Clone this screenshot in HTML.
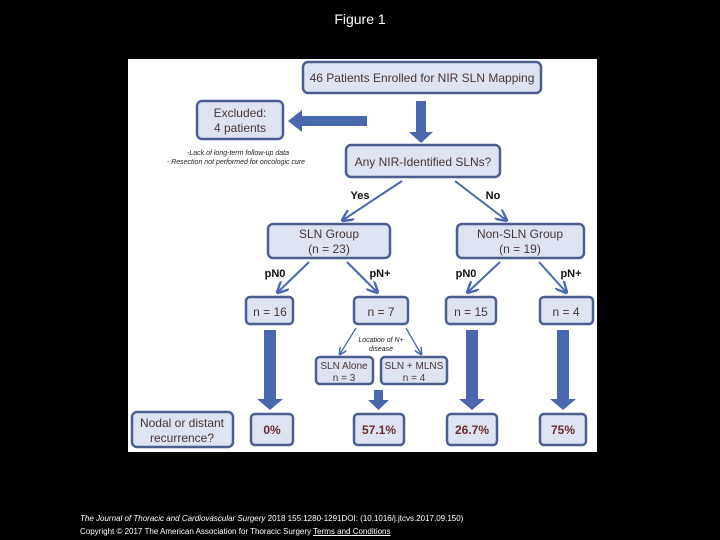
<!DOCTYPE html>
<html><head><style>
body{margin:0;background:#000;width:720px;height:540px;overflow:hidden;position:relative;font-family:"Liberation Sans",sans-serif}
.t{position:absolute;color:#fff}
</style></head><body>
<div class="t" style="left:0;width:720px;top:11px;text-align:center;font-size:14px">Figure 1</div>
<svg style="position:absolute;left:0;top:0" width="720" height="540">
<rect x="128" y="59" width="469" height="393" fill="#fff"/>
<defs><marker id="a" markerWidth="6" markerHeight="6" refX="5" refY="3" orient="auto"><path d="M0,0 L6,3 L0,6" fill="none" stroke="#4a68ad" stroke-width="1.2"/></marker></defs>
<g fill="#dde3f1" stroke="#4b5f8e" stroke-width="2.5">
<rect x="303" y="62" width="238" height="31" rx="5"/>
<rect x="197" y="101" width="86" height="38" rx="5"/>
<rect x="346" y="145" width="154" height="32" rx="5"/>
<rect x="268" y="224" width="122" height="34" rx="5"/>
<rect x="457" y="224" width="127" height="34" rx="5"/>
<rect x="246" y="297" width="47" height="27" rx="4"/>
<rect x="354" y="297" width="54" height="27" rx="4"/>
<rect x="446" y="297" width="50" height="27" rx="4"/>
<rect x="540" y="297" width="53" height="27" rx="4"/>
<rect x="316" y="357" width="57" height="27" rx="4"/>
<rect x="381" y="357" width="66" height="27" rx="4"/>
<rect x="132" y="412" width="101" height="35" rx="5"/>
<rect x="251" y="414" width="42" height="31" rx="4"/>
<rect x="354" y="414" width="50" height="31" rx="4"/>
<rect x="447" y="414" width="50" height="31" rx="4"/>
<rect x="540" y="414" width="46" height="31" rx="4"/>
</g>
<g fill="#4a68ad">
<path d="M367,116 L302,116 L302,110 L288,121 L302,132 L302,126 L367,126Z"/>
<path d="M416,101 L426,101 L426,132 L433,132 L421,143 L409,132 L416,132Z"/>
<path d="M264,330 L276,330 L276,399 L283,399 L270,410 L257,399 L264,399Z"/>
<path d="M466,330 L478,330 L478,399 L485,399 L472,410 L459,399 L466,399Z"/>
<path d="M557,330 L569,330 L569,399 L576,399 L563,410 L550,399 L557,399Z"/>
<path d="M374,390 L383,390 L383,400 L389,400 L378.5,410 L368,400 L374,400Z"/>
</g>
<g stroke="#4a68ad" stroke-width="2" marker-end="url(#a)">
<line x1="402" y1="181" x2="343" y2="220"/>
<line x1="455" y1="181" x2="506" y2="220"/>
<line x1="309" y1="262" x2="278" y2="292"/>
<line x1="347" y1="262" x2="377" y2="292"/>
<line x1="500" y1="262" x2="468" y2="292"/>
<line x1="539" y1="262" x2="566" y2="292"/>
<line stroke-width="1.3" x1="356" y1="328" x2="340" y2="354"/>
<line stroke-width="1.3" x1="406" y1="328" x2="421" y2="354"/>
</g>
<g font-family="Liberation Sans,sans-serif" fill="#4a3535" text-anchor="middle" font-size="12">
<text x="422" y="82">46 Patients Enrolled for NIR SLN Mapping</text>
<text x="240" y="117">Excluded:</text>
<text x="240" y="132">4 patients</text>
<text x="423" y="166">Any NIR-Identified SLNs?</text>
<text x="329" y="238">SLN Group</text>
<text x="329" y="253">(n = 23)</text>
<text x="520" y="238">Non-SLN Group</text>
<text x="520" y="253">(n = 19)</text>
<text x="270" y="316">n = 16</text>
<text x="381" y="316">n = 7</text>
<text x="471" y="316">n = 15</text>
<text x="566" y="316">n = 4</text>
<text x="344" y="369" font-size="10">SLN Alone</text>
<text x="344" y="381" font-size="10">n = 3</text>
<text x="414" y="369" font-size="10">SLN + MLNS</text>
<text x="414" y="381" font-size="10">n = 4</text>
<text x="182" y="427">Nodal or distant</text>
<text x="182" y="442">recurrence?</text>
<g font-weight="bold" fill="#6a2c2c"><text x="272" y="434">0%</text><text x="379" y="434">57.1%</text><text x="472" y="434">26.7%</text><text x="563" y="434">75%</text></g>
<g font-weight="bold" fill="#111" font-size="11"><text x="360" y="199">Yes</text><text x="493" y="199">No</text><text x="275" y="277">pN0</text><text x="380" y="277">pN+</text><text x="466" y="277">pN0</text><text x="571" y="277">pN+</text></g>
<g font-style="italic" fill="#222" font-size="7"><text x="238" y="155">-Lack of long-term follow-up data</text><text x="236" y="164">- Resection not performed for oncologic cure</text><text x="381" y="342">Location of N+</text><text x="381" y="351">disease</text></g>
</g>
</svg>
<div class="t" style="left:80px;top:514px;font-size:8px;white-space:nowrap"><i>The Journal of Thoracic and Cardiovascular Surgery</i> 2018 155:1280-1291DOI: (10.1016/j.jtcvs.2017.09.150)</div>
<div class="t" style="left:80px;top:527px;font-size:8px;white-space:nowrap">Copyright © 2017 The American Association for Thoracic Surgery <u>Terms and Conditions</u></div>
</body></html>
